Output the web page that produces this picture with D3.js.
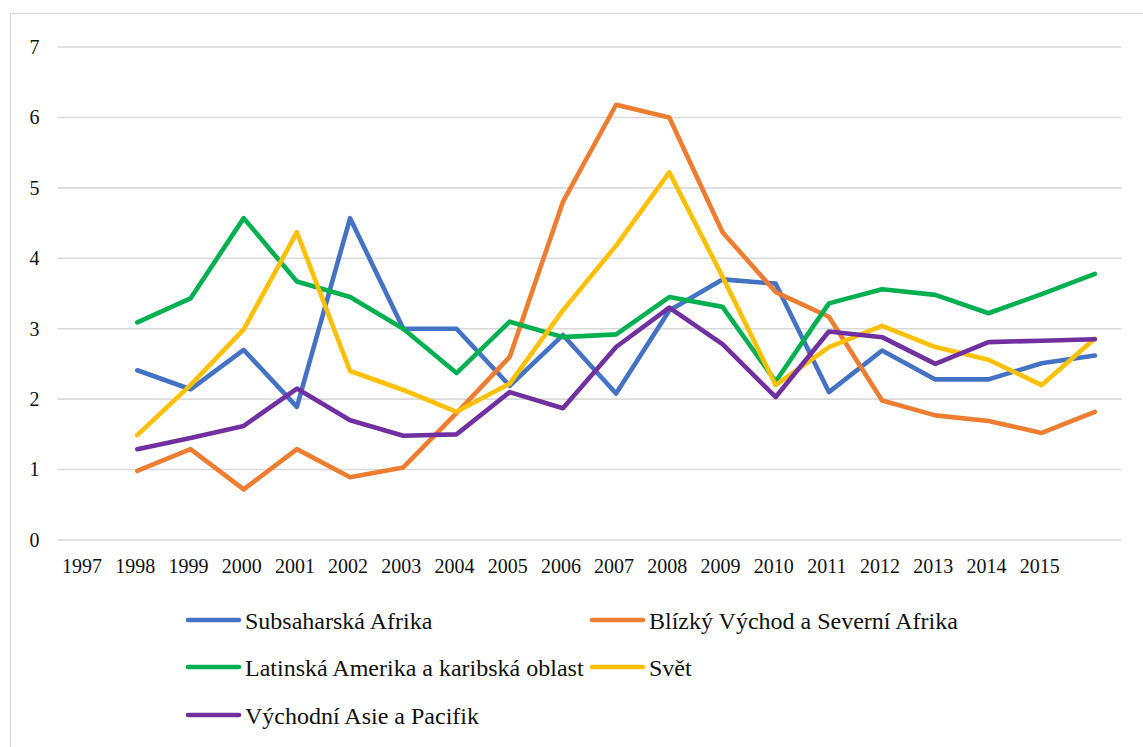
<!DOCTYPE html>
<html lang="cs">
<head>
<meta charset="utf-8">
<script src="https://cdn.jsdelivr.net/npm/d3@7"></script>
<style>
  html, body { margin: 0; padding: 0; background: #fff; }
  svg { display: block; }
  svg text { font-family: "Liberation Serif", "Times New Roman", Times, "DejaVu Serif", serif; }
</style>
</head>
<body>
<svg id="chart" width="1143" height="747"></svg>
<script>
// Category slots on the x axis (the last slot carries no label)
const years = ["1997","1998","1999","2000","2001","2002","2003","2004","2005","2006",
               "2007","2008","2009","2010","2011","2012","2013","2014","2015",""];

// Series values per slot; the first slot is empty
const subsaharskaAfrika = [null, 2.41, 2.14, 2.70, 1.89, 4.57, 3.00, 3.00, 2.19, 2.91,
                           2.08, 3.26, 3.70, 3.64, 2.10, 2.69, 2.28, 2.28, 2.51, 2.62];
const blizkyVychod      = [null, 0.98, 1.29, 0.72, 1.29, 0.89, 1.03, 1.80, 2.60, 4.80,
                           6.18, 6.00, 4.37, 3.52, 3.17, 1.98, 1.77, 1.69, 1.52, 1.82];
const latinskaAmerika   = [null, 3.09, 3.43, 4.57, 3.67, 3.45, 3.00, 2.37, 3.10, 2.88,
                           2.92, 3.45, 3.31, 2.25, 3.36, 3.56, 3.48, 3.22, 3.49, 3.78];
const svet              = [null, 1.49, 2.20, 2.99, 4.37, 2.40, 2.13, 1.82, 2.22, 3.26,
                           4.18, 5.22, 3.74, 2.20, 2.74, 3.04, 2.74, 2.56, 2.20, 2.86];
const vychodniAsie      = [null, 1.29, 1.45, 1.62, 2.15, 1.70, 1.48, 1.50, 2.10, 1.87,
                           2.74, 3.30, 2.78, 2.03, 2.96, 2.88, 2.50, 2.81, 2.83, 2.85];

const seriesNames  = ["Subsaharská Afrika", "Blízký Východ a Severní Afrika",
                      "Latinská Amerika a karibská oblast", "Svět", "Východní Asie a Pacifik"];
const seriesColors = ["#4472C4", "#ED7D31", "#00B050", "#FFC000", "#7030A0"];
const yTicks = [0, 1, 2, 3, 4, 5, 6, 7];

const series = [subsaharskaAfrika, blizkyVychod, latinskaAmerika, svet, vychodniAsie]
  .map((values, i) => ({ name: seriesNames[i], color: seriesColors[i], values }));

const serifStack = '"Liberation Serif", "Times New Roman", Times, "DejaVu Serif", serif';

const svg = d3.select("#chart");

// Outer chart frame
svg.append("rect")
  .attr("x", 10.5).attr("y", 13.5)
  .attr("width", 1160).attr("height", 760)
  .attr("fill", "#fff")
  .attr("stroke", "#D9D9D9").attr("stroke-width", 1.2);

const plot = { left: 57.5, right: 1121.5, top: 47, bottom: 540 };

const x = d3.scaleBand()
  .domain(d3.range(years.length))
  .range([plot.left, plot.right])
  .padding(0);
const xc = i => x(i) + x.bandwidth() / 2;

const y = d3.scaleLinear().domain([0, 7]).range([plot.bottom, plot.top]);

// Horizontal gridlines
svg.append("g")
  .selectAll("line")
  .data(yTicks)
  .join("line")
  .attr("x1", plot.left).attr("x2", plot.right)
  .attr("y1", d => y(d)).attr("y2", d => y(d))
  .attr("stroke", "#D9D9D9").attr("stroke-width", 1.6);

// Y axis labels
const yAxis = d3.axisLeft(y).tickValues(yTicks).tickSize(0).tickPadding(0).tickFormat(d3.format("d"));
svg.append("g")
  .attr("transform", `translate(${plot.left - 18},0)`)
  .call(yAxis)
  .call(g => g.attr("font-family", null))
  .call(g => g.select(".domain").remove())
  .call(g => g.selectAll("text")
    .style("font-family", serifStack)
    .style("font-size", "20px")
    .attr("fill", "#111"));

// X axis labels
const xAxis = d3.axisBottom(x).tickSize(0).tickPadding(0).tickFormat(i => years[i]);
svg.append("g")
  .attr("transform", `translate(-2,${plot.bottom + 19})`)
  .call(xAxis)
  .call(g => g.attr("font-family", null))
  .call(g => g.select(".domain").remove())
  .call(g => g.selectAll("text")
    .style("font-family", serifStack)
    .style("font-size", "20px")
    .attr("fill", "#111"));

// Series lines
const line = d3.line()
  .defined(d => d != null)
  .x((d, i) => xc(i))
  .y(d => y(d));

svg.append("g")
  .selectAll("path")
  .data(series)
  .join("path")
  .attr("d", s => line(s.values))
  .attr("fill", "none")
  .attr("stroke", s => s.color)
  .attr("stroke-width", 4.6)
  .attr("stroke-linejoin", "round")
  .attr("stroke-linecap", "round");

// Legend: two columns, three rows
const legendCols = [186, 590];
const legendRows = [620, 667, 715];
const legend = svg.append("g")
  .selectAll("g")
  .data(series)
  .join("g")
  .attr("transform", (s, i) => `translate(${legendCols[i % 2]},${legendRows[Math.floor(i / 2)]})`);

legend.append("line")
  .attr("x1", 2).attr("x2", 53)
  .attr("y1", 0).attr("y2", 0)
  .attr("stroke", s => s.color)
  .attr("stroke-width", 4.6)
  .attr("stroke-linecap", "round");

legend.append("text")
  .attr("x", 59)
  .attr("y", 9)
  .style("font-family", serifStack)
  .style("font-size", "24px")
  .attr("fill", "#111")
  .text(s => s.name);
</script>
</body>
</html>
